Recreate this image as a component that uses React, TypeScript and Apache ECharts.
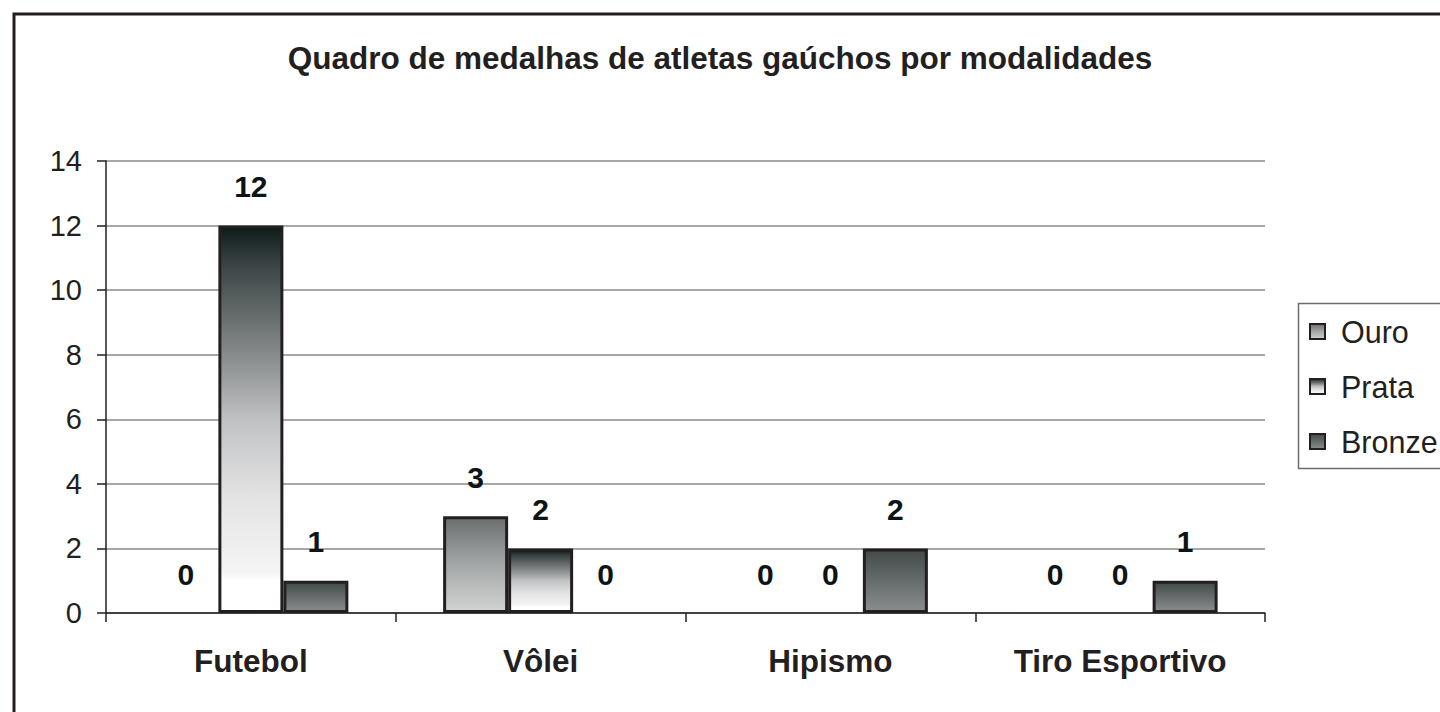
import React, { useEffect, useRef } from "react";
import * as echarts from "echarts";

const categories = ["Futebol", "Vôlei", "Hipismo", "Tiro Esportivo"];
const seriesNames = ["Ouro", "Prata", "Bronze"];
const ouro = [0, 3, 0, 0];
const prata = [12, 2, 0, 0];
const bronze = [1, 0, 2, 1];
const titleText = "Quadro de medalhas de atletas gaúchos por modalidades";

const FONT = "'Liberation Sans', Arial, sans-serif";
const DARK = "#231f20";

const grad = (stops: [number, string][]) =>
  new echarts.graphic.LinearGradient(
    0, 0, 0, 1,
    stops.map(([offset, color]) => ({ offset, color }))
  );

const gradients = [
  grad([[0, "#6a6f6f"], [0.5, "#a4a7a7"], [1, "#d2d3d3"]]),
  grad([
    [0, "#0f1a1a"],
    [0.1, "#3b4545"],
    [0.35, "#8d9090"],
    [0.5, "#bfc1c2"],
    [0.7, "#e3e3e4"],
    [0.9, "#f6f5f5"],
    [0.92, "#ffffff"],
    [1, "#ffffff"],
  ]),
  grad([[0, "#424a4a"], [1, "#8a8d8d"]]),
];

export default function App() {
  const ref = useRef<HTMLDivElement>(null);
  useEffect(() => {
    if (!ref.current) return;
    const chart = echarts.init(ref.current, null, { renderer: "svg" });
    const data = [ouro, prata, bronze];
    chart.setOption({
      animation: false,
      backgroundColor: "#ffffff",
      title: {
        text: titleText,
        left: "center",
        top: 42,
        padding: 0,
        textStyle: { fontFamily: FONT, fontSize: 31.5, fontWeight: "bold", color: DARK },
      },
      graphic: [
        {
          type: "rect",
          shape: { x: 14, y: 14, width: 1500, height: 800 },
          style: { fill: "none", stroke: DARK, lineWidth: 3 },
          silent: true,
        },
        {
          type: "rect",
          shape: { x: 1298.5, y: 303.5, width: 200, height: 165 },
          style: { fill: "none", stroke: "#6d6d6d", lineWidth: 1.5 },
          silent: true,
        },
      ],
      legend: {
        orient: "vertical",
        left: 1309,
        top: 316,
        padding: 0,
        itemWidth: 15,
        itemHeight: 15,
        itemGap: 24,
        icon: "rect",
        data: seriesNames,
        textStyle: {
          fontFamily: FONT,
          fontSize: 30.5,
          color: DARK,
          lineHeight: 31,
          padding: [0, 0, 0, 11],
        },
        itemStyle: { borderColor: DARK, borderWidth: 2 },
      },
      grid: { left: 106, right: 175, top: 161, height: 452 },
      xAxis: {
        type: "category",
        data: categories,
        axisLine: { lineStyle: { color: DARK, width: 1.5 } },
        axisTick: { show: true, length: 9, alignWithLabel: false, lineStyle: { color: DARK, width: 1.5 } },
        axisLabel: {
          margin: 32,
          fontFamily: FONT,
          fontSize: 31.5,
          fontWeight: "bold",
          color: DARK,
        },
      },
      yAxis: {
        type: "value",
        min: 0,
        max: 14,
        interval: 2,
        axisLine: { show: true, lineStyle: { color: DARK, width: 1.5 } },
        axisTick: { show: true, length: 9, lineStyle: { color: DARK, width: 1.5 } },
        axisLabel: { margin: 24, fontFamily: FONT, fontSize: 29, color: DARK },
        splitLine: { lineStyle: { color: "#8a8a8a", width: 1.5 } },
      },
      series: seriesNames.map((name, i) => ({
        name,
        type: "bar",
        data: data[i].map((v) =>
          v === 0
            ? { value: v, itemStyle: { borderWidth: 0, color: "rgba(0,0,0,0)" } }
            : v
        ),
        barWidth: 65,
        barGap: "0%",
        itemStyle: { color: gradients[i], borderColor: DARK, borderWidth: 3 },
        label: {
          show: true,
          position: "top",
          distance: 24,
          fontFamily: FONT,
          fontSize: 30,
          fontWeight: "bold",
          color: "#0d1414",
        },
      })),
    });
    return () => chart.dispose();
  }, []);
  return (
    <div
      ref={ref}
      style={{ position: "fixed", left: 0, top: 0, width: 1440, height: 712 }}
    />
  );
}
